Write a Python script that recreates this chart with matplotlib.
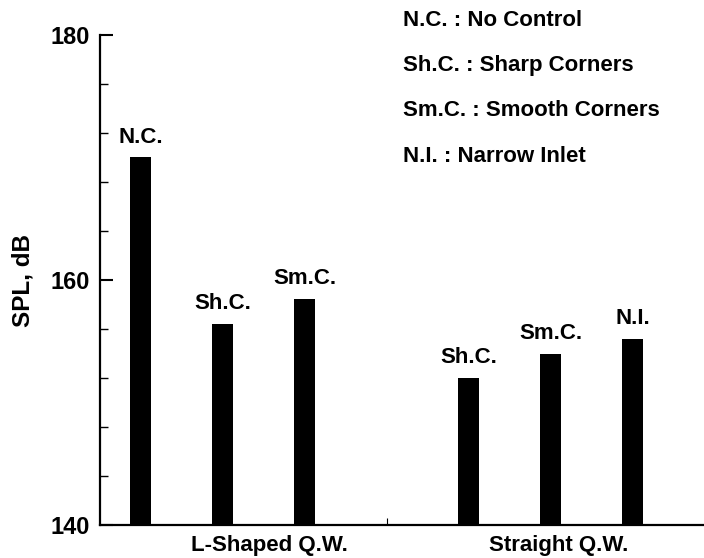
import matplotlib.pyplot as plt
from matplotlib.ticker import MultipleLocator

plt.rcParams['font.family'] = ['Liberation Sans', 'DejaVu Sans']
plt.rcParams['font.weight'] = 'bold'

# SPL per configuration, two quarter-wave tube types
positions = [1, 2, 3, 5, 6, 7]
bar_names = ['N.C.', 'Sh.C.', 'Sm.C.', 'Sh.C.', 'Sm.C.', 'N.I.']
spl = [170.0, 156.4, 158.45, 152.0, 154.0, 155.2]
groups = ['L-Shaped Q.W.', 'Straight Q.W.']
group_x = [2.57, 6.1]
legend_lines = ['N.C. : No Control', 'Sh.C. : Sharp Corners',
                'Sm.C. : Smooth Corners', 'N.I. : Narrow Inlet']

fig = plt.figure(figsize=(7.04, 5.58), dpi=100)
ax = fig.add_axes([0.142, 0.0591, 0.858, 0.8782])

bars = ax.bar(positions, [v - 140 for v in spl], bottom=140, width=0.256,
              color='black')
ax.bar_label(bars, labels=bar_names, padding=7, fontsize=16, fontweight='bold')

ax.set_ylim(140, 180)
ax.set_xlim(0.506, 7.87)
ax.yaxis.set_major_locator(MultipleLocator(20))
ax.yaxis.set_minor_locator(MultipleLocator(4))
ax.tick_params(axis='y', which='major', direction='in', length=9.5, width=1.5,
               labelsize=17, pad=7)
ax.tick_params(axis='y', which='minor', direction='in', length=6, width=1)
ax.set_xticks([4])
ax.set_xticklabels([''])
ax.tick_params(axis='x', direction='in', length=5, width=0.8)

for side in ['top', 'right']:
    ax.spines[side].set_visible(False)
for side in ['left', 'bottom']:
    ax.spines[side].set_linewidth(1.6)

ax.set_ylabel('SPL, dB', fontsize=17.5, fontweight='bold', labelpad=12)

for gx, g in zip(group_x, groups):
    ax.text(gx, -0.041, g, transform=ax.get_xaxis_transform(), ha='center',
            va='center', fontsize=16, fontweight='bold')

for i, line in enumerate(legend_lines):
    fig.text(0.572, 1 - (20 + 45.5 * i) / 558, line, ha='left', va='center',
             fontsize=16, fontweight='bold')

fig.savefig('out.png', dpi=100)
